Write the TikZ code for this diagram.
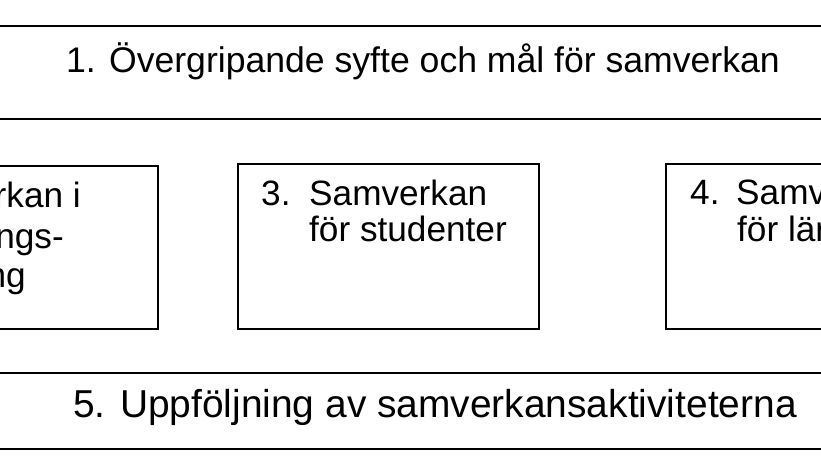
\documentclass[tikz,border=0pt]{standalone}
\usepackage{fontspec}
\setmainfont{Liberation Sans}
\begin{document}
\begin{tikzpicture}[x=1pt,y=-1pt,
  frame/.style={draw=black,line width=1.9pt,fill=none,inner sep=0pt,anchor=north west},
  lbl/.style={inner sep=0pt,text=black},
  fa/.style={font=\fontsize{35.6}{42}\selectfont},
  fb/.style={font=\fontsize{35.2}{42}\selectfont},
  fc/.style={font=\fontsize{38.9}{46}\selectfont}]
\useasboundingbox (0,0) rectangle (821,462);
\clip (0,0) rectangle (821,462);
\fill[white] (0,0) rectangle (821,462);
% frames
\node[frame,minimum width=841pt,minimum height=93pt] (top) at (-10,25) {};
\node[frame,minimum width=300pt,minimum height=163pt] (b2) at (-143,165) {};
\node[frame,minimum width=301pt,minimum height=165pt] (b3) at (237,163) {};
\node[frame,minimum width=300pt,minimum height=165pt] (b4) at (665,163) {};
\node[frame,minimum width=841pt,minimum height=76pt] (bot) at (-10,372) {};
% texts
\node[lbl,fa,anchor=base west] (t1) at (66,73) {1. Övergripande syfte och mål för samverkan};
\node[lbl,fb,anchor=base east] (t2a) at (81,208) {Samverkan i};
\node[lbl,fb,anchor=base east] (t2b) at (64,248) {ngs-};
\node[lbl,fb,anchor=base east] (t2c) at (26,287) {ng};
\node[lbl,fb,anchor=base west] (t3n) at (261,206) {3.};
\node[lbl,fb,anchor=base west] (t3a) at (309,206) {Samverkan};
\node[lbl,fb,anchor=base west] (t3b) at (309,241) {för studenter};
\node[lbl,fb,anchor=base west] (t4n) at (690,205) {4.};
\node[lbl,fb,anchor=base west] (t4a) at (736,205) {Samverkan};
\node[lbl,fb,anchor=base west] (t4b) at (737,242) {för lärare};
\node[lbl,fc,anchor=base west] (t5) at (73,417) {5. Uppföljning av samverkansaktiviteterna};
\end{tikzpicture}
\end{document}
